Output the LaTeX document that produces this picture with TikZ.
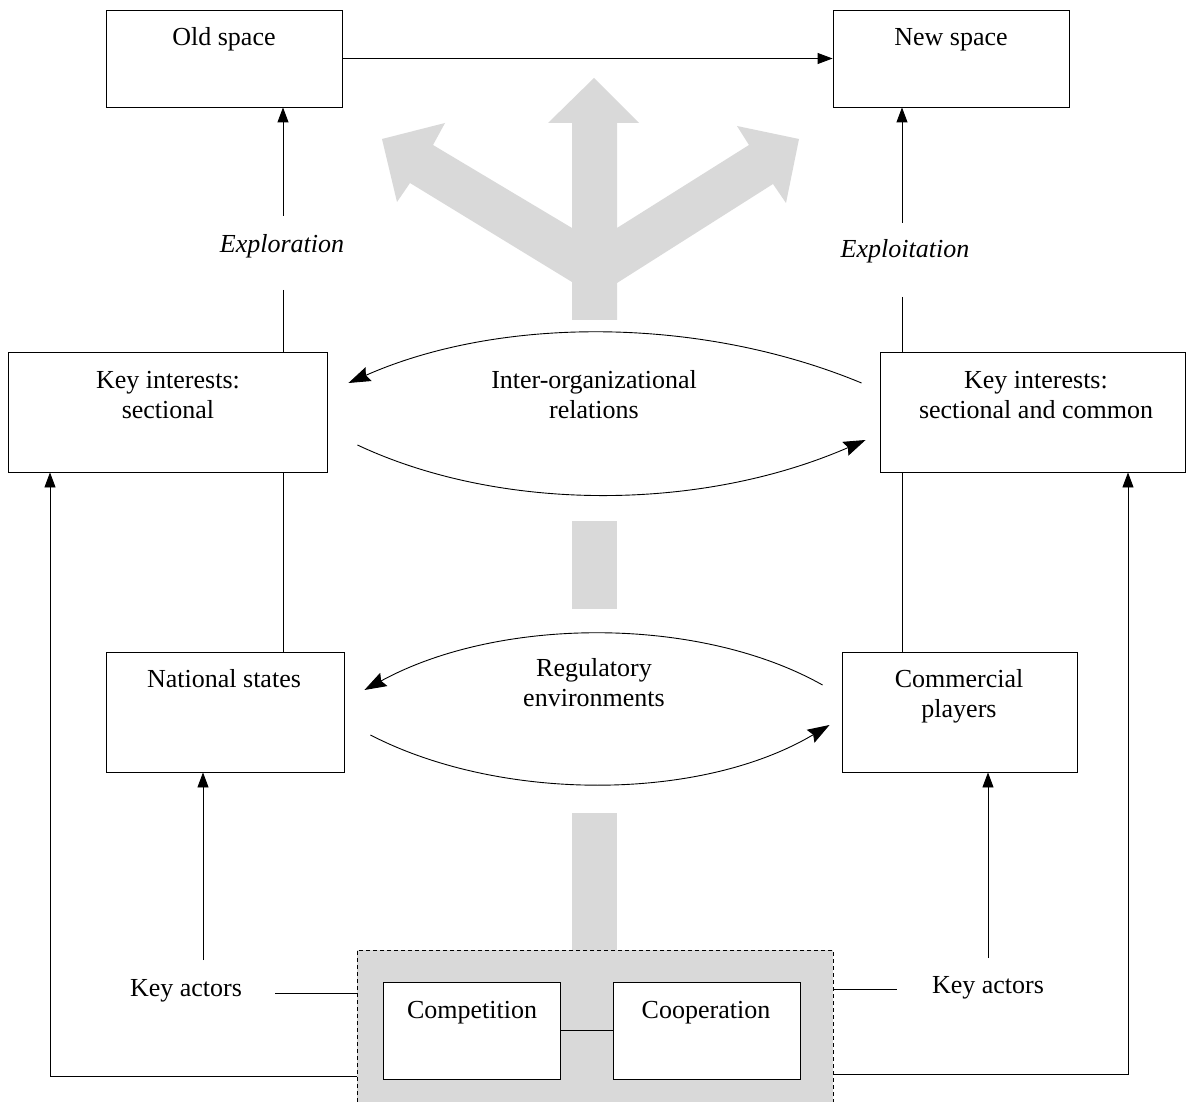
\documentclass[tikz,border=0pt]{standalone}
\usepackage{fontspec}
\setmainfont{Liberation Serif}
\usetikzlibrary{arrows.meta,calc}
\definecolor{greyfill}{RGB}{217,217,217}
\newcommand{\twoline}[2]{\begin{tabular}[t]{@{}c@{}}#1\\#2\end{tabular}}
\begin{document}
\begin{tikzpicture}[x=1pt,y=-1pt, line width=0.9pt,
  box/.style={draw, rectangle, inner sep=0pt, fill=white},
  lbl/.style={anchor=base, inner sep=0pt, font=\fontsize{26}{30}\selectfont},
  ilbl/.style={lbl, font=\fontsize{26}{30}\selectfont\itshape},
  arr/.style={-{Triangle[length=15pt,width=11pt]}},
  carr/.style={-{Stealth[length=22pt,width=15pt,inset=3pt]}},
  ]
\useasboundingbox (0,0) rectangle (1187,1102);
\fill[white] (0,0) rectangle (1187,1102);

% big grey arrow
\fill[greyfill] (572,320) -- (572,282) -- (410,183) -- (397,202) -- (382,139) -- (445,123) -- (433,145)
  -- (572,228) -- (572,123) -- (548,123) -- (594,78) -- (639,123) -- (617,123) -- (617,228)
  -- (749,145) -- (737,126) -- (799,139) -- (786,203) -- (773,184) -- (617,283) -- (617,320) -- cycle;
\fill[greyfill] (572,521) rectangle (617,609);
\fill[greyfill] (572,813) rectangle (617,950);

% boxes
\node[box, minimum width=236pt, minimum height=97pt] (old) at (224,58.5) {};
\node[box, minimum width=236pt, minimum height=97pt] (new) at (951,58.5) {};
\node[box, minimum width=319pt, minimum height=120pt] (kis) at (167.5,412) {};
\node[box, minimum width=305pt, minimum height=120pt] (kic) at (1032.5,412) {};
\node[box, minimum width=238pt, minimum height=120pt] (nat) at (225,712) {};
\node[box, minimum width=235pt, minimum height=120pt] (com) at (959.5,712) {};
\node[draw, fill=greyfill, dash pattern=on 4pt off 3pt, line width=0.8pt, inner sep=0pt,
  minimum width=476pt, minimum height=160pt] (coll) at (595,1030) {};
\node[box, minimum width=177pt, minimum height=97pt] (comp) at (471.5,1030.5) {};
\node[box, minimum width=187pt, minimum height=97pt] (coop) at (706.5,1030.5) {};

% texts
\node[lbl] (told) at (224,46) {Old space};
\node[lbl] (tnew) at (951,46) {New space};
\node[lbl] (tkis) at (168,388) {\twoline{Key interests:}{sectional}};
\node[lbl] (tkic) at (1036,388) {\twoline{Key interests:}{sectional and common}};
\node[lbl] (tnat) at (224,687) {National states};
\node[lbl] (tcom) at (959,687) {\twoline{Commercial}{players}};
\node[lbl] (tcomp) at (472,1018) {Competition};
\node[lbl] (tcoop) at (706,1018) {Cooperation};
\node[lbl] (tinter) at (594,388) {\twoline{Inter-organizational}{relations}};
\node[lbl] (treg) at (594,676) {\twoline{Regulatory}{environments}};
\node[lbl] (tkaL) at (186,996) {Key actors};
\node[lbl] (tkaR) at (988,993) {Key actors};
\node[ilbl] (texpl) at (282,253) {Exploration};
\node[ilbl] (texpt) at (905,258) {Exploitation};

% coordinates for free ends
\coordinate (ex1) at (283,216);
\coordinate (ex2) at (283,290);
\coordinate (ey1) at (902,223);
\coordinate (ey2) at (902,297);
\coordinate (kaL1) at (275,993);
\coordinate (kaR1) at (897,989);
\coordinate (kaLup) at (203,960);
\coordinate (kaRup) at (988,958);
\coordinate (bl) at (50,1076);
\coordinate (br) at (1128,1074);

% connectors
\draw[arr] (old.east) -- (new.west);
\draw[arr] (ex1) -- (ex1 |- old.south);
\draw (ex2) -- (ex2 |- kis.north);
\draw[arr] (ey1) -- (ey1 |- new.south);
\draw (ey2) -- (ey2 |- kic.north);
\draw (ex1 |- kis.south) -- (ex1 |- nat.north);
\draw (ey1 |- kic.south) -- (ey1 |- com.north);

\draw[carr] ($(kic.west)+(-18,-29)$) .. controls (700,316) and (500,316) .. ($(kis.east)+(21,-29)$);
\draw[carr] ($(kis.east)+(30,33)$) .. controls (500,512) and (700,512) .. ($(kic.west)+(-14,28)$);
\draw[carr] ($(com.west)+(-19,-27)$) .. controls (700,616) and (500,616) .. ($(nat.east)+(20,-22)$);
\draw[carr] ($(nat.east)+(26,23)$) .. controls (500,802) and (700,802) .. ($(com.west)+(-12,13)$);

\draw[arr] (kaLup) -- (kaLup |- nat.south);
\draw[arr] (kaRup) -- (kaRup |- com.south);
\draw (kaL1) -- (coll.west |- kaL1);
\draw (coll.east |- kaR1) -- (kaR1);
\draw (comp.east) -- (coop.west);
\draw[arr] (coll.west |- bl) -- (bl) -- (bl |- kis.south);
\draw[arr] (coll.east |- br) -- (br) -- (br |- kic.south);
\end{tikzpicture}
\end{document}
